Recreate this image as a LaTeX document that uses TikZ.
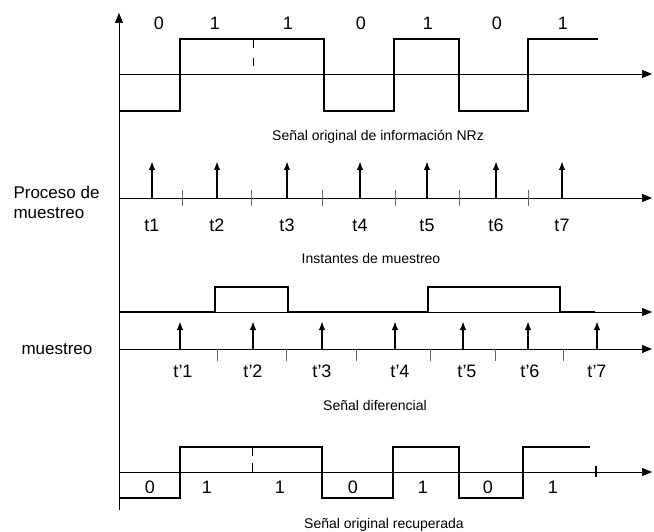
\documentclass[tikz,border=0pt]{standalone}
\usepackage{fontspec}
\setmainfont{Liberation Sans}
\usetikzlibrary{arrows.meta}

\begin{document}
\begin{tikzpicture}[x=1pt, y=-1pt,
  ax/.style={-{Triangle[length=10pt,width=8pt]}, line width=0.7pt},
  sig/.style={line width=1.8pt, line join=miter},
  smp/.style={-{Latex[length=9pt,width=6.5pt]}, line width=2.2pt},
  tck/.style={line width=0.5pt, black!60},
  bit/.style={font=\fontsize{18}{20}\selectfont},
  captxt/.style={font=\fontsize{14}{16}\selectfont}]
  \useasboundingbox (0,0) rectangle (654,532);

  % Vertical axis
  \coordinate (v0) at (119,510);
  \coordinate (v1) at (119,13);
  \draw[ax] (v0) -- (v1);

  % Original NRZ signal
  \coordinate (a0) at (119,74);
  \coordinate (a1) at (652,74);
  \draw[ax] (a0) -- (a1);
  \draw[sig] (119,111) -- (180,111) -- (180,39) -- (324,39) -- (324,111)
    -- (394,111) -- (394,39) -- (459,39) -- (459,111) -- (528,111)
    -- (528,39) -- (598,39);
  \draw[line width=1pt, dashed, dash pattern=on 8pt off 10pt] (253,40) -- (253,67);
  \foreach \x/\b [count=\i] in {159/0,215/1,288/1,361/0,428/1,497/0,563/1}
    \node[bit] (b\i) at (\x,23) {\b};
  \node[captxt] (capA) at (378,137) {Señal original de información NRz};

  % Sampling instants
  \node[font=\fontsize{17}{20}\selectfont, align=left, anchor=west] (proc) at (10,202) {Proceso de\\muestreo};
  \coordinate (s0) at (119,198);
  \coordinate (s1) at (652,198);
  \draw[ax] (s0) -- (s1);
  \foreach \x in {182,251,322,395,459,528}
    \draw[tck] (\x,190) -- (\x,206);
  \foreach \x [count=\i] in {152,217,287,360,427,496,562} {
    \coordinate (t\i) at (\x,198);
    \draw[smp] (t\i) -- ++(0,-37);
    \node[bit] (lt\i) at (\x,225) {t\i};
  }
  \node[captxt] (capB) at (371,258) {Instantes de muestreo};

  % Differential signal
  \coordinate (d0) at (119,312);
  \coordinate (d1) at (652,312);
  \draw[ax] (d0) -- (d1);
  \draw[sig] (119,312) -- (215,312) -- (215,287) -- (288,287) -- (288,312)
    -- (428,312) -- (428,287) -- (560,287) -- (560,312) -- (595,312);

  % Second sampling
  \node[font=\fontsize{17}{20}\selectfont, anchor=west] (mue) at (18,349) {muestreo};
  \coordinate (m0) at (119,349);
  \coordinate (m1) at (652,349);
  \draw[ax] (m0) -- (m1);
  \foreach \x in {217,286,356,430,495,563}
    \draw[tck] (\x,349) -- (\x,361);
  \foreach \x/\lx [count=\i] in {180/183,253/253,322/322,395/400,463/467,528/530,597/597} {
    \coordinate (u\i) at (\x,349);
    \draw[smp] (u\i) -- ++(0,-28);
    \node[bit] (lu\i) at (\lx,371) {t'\i};
  }
  \node[captxt] (capC) at (375,405) {Señal diferencial};

  % Recovered signal
  \coordinate (r0) at (119,472);
  \coordinate (r1) at (652,472);
  \draw[ax] (r0) -- (r1);
  \draw[sig] (119,498) -- (180,498) -- (180,447) -- (322,447) -- (322,498)
    -- (393,498) -- (393,447) -- (459,447) -- (459,498) -- (523,498)
    -- (523,447) -- (590,447);
  \draw[line width=1pt, dashed, dash pattern=on 9pt off 7pt] (252,447) -- (252,472);
  \draw[line width=1.2pt] (596,466) -- (596,477);
  \foreach \x/\b [count=\i] in {150/0,207/1,280/1,353/0,423/1,488/0,553/1}
    \node[bit] (c\i) at (\x,487) {\b};
  \node[captxt] (capD) at (384,525) {Señal original recuperada};
\end{tikzpicture}
\end{document}
